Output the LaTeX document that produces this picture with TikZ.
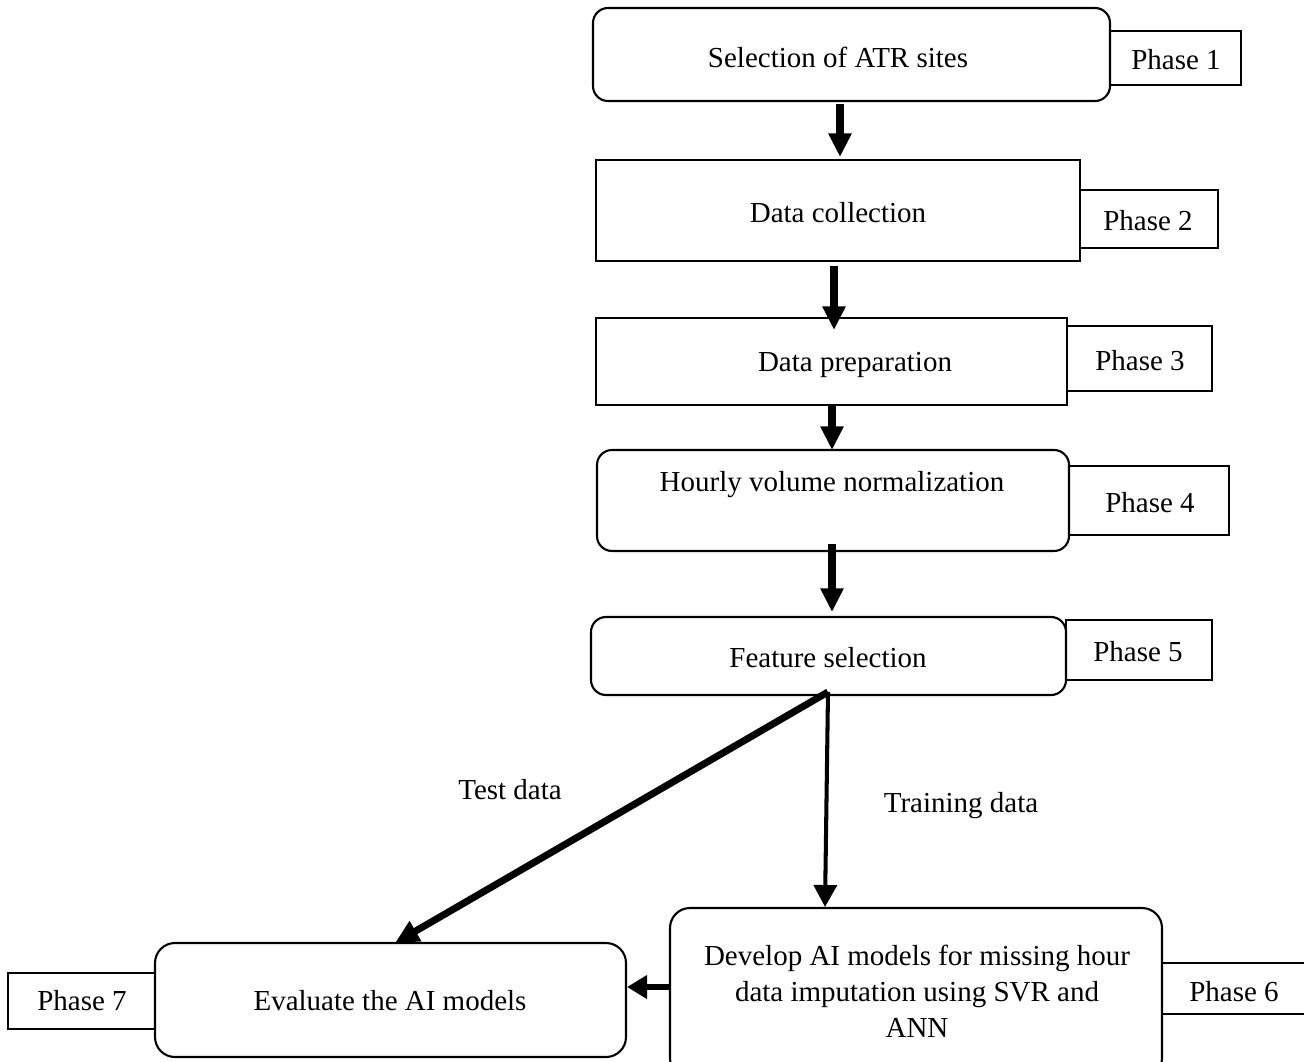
\documentclass[tikz,border=0pt]{standalone}
\usepackage{fontspec}
\setmainfont{Liberation Serif}
\usetikzlibrary{arrows.meta,fit}
\begin{document}
\begin{tikzpicture}[x=0.02cm,y=-0.02cm,
  box/.style={draw, line width=1.2pt, inner sep=0pt},
  rbox/.style={box, rounded corners=0.3cm},
  rrbox/.style={box, rounded corners=0.4cm},
  txt/.style={font=\fontsize{16.5pt}{20.5pt}\selectfont, inner sep=0pt, align=center},
  bigarrow/.style={line width=4pt, -{Triangle[width=12.5pt,length=13.5pt]}},
  midarrow/.style={line width=2.3pt, -{Triangle[width=13pt,length=12.5pt]}},
  sidearrow/.style={line width=3.5pt, -{Triangle[width=13pt,length=11.5pt]}}]
\useasboundingbox (0,0) rectangle (1304,1061);
% boxes
\node[rbox, fit={(593,8) (1110,101)}] (b1) {};
\node[box, fit={(1110,31) (1241,85)}] (p1) {};
\node[box, fit={(596,160) (1080,261)}] (b2) {};
\node[box, fit={(1080,190) (1218,248)}] (p2) {};
\node[box, fit={(596,318) (1067,405)}] (b3) {};
\node[box, fit={(1067,326) (1212,391)}] (p3) {};
\node[rbox, fit={(597,450) (1069,551)}] (b4) {};
\node[box, fit={(1069,466) (1229,535)}] (p4) {};
\node[rbox, fit={(591,617) (1066,695)}] (b5) {};
\node[box, fit={(1066,620) (1212,680)}] (p5) {};
\node[rrbox, fit={(670,908) (1162,1078)}] (b6) {};
\node[box, fit={(1162,963) (1330,1014)}] (p6) {};
\node[rrbox, fit={(155,943) (626,1057)}] (b7) {};
\node[box, fit={(8,973) (155,1029)}] (p7) {};
% texts
\node[txt] (t1) at (838,57) {Selection of ATR sites};
\node[txt] (tp1) at (1176,60) {Phase 1};
\node[txt] (t2) at (838,213) {Data collection};
\node[txt] (tp2) at (1148,221) {Phase 2};
\node[txt] (t3) at (855,365) {Data preparation};
\node[txt] (tp3) at (1140,361) {Phase 3};
\node[txt] (t4) at (832,485) {Hourly volume normalization};
\node[txt] (tp4) at (1150,503) {Phase 4};
\node[txt] (t5) at (828,658) {Feature selection};
\node[txt] (tp5) at (1138,652) {Phase 5};
\node[txt] (t6) at (917,991) {Develop AI models for missing hour\\data imputation using SVR and\\ANN};
\node[txt] (tp6) at (1234,992) {Phase 6};
\node[txt] (t7) at (390,1001) {Evaluate the AI models};
\node[txt] (tp7) at (82,1001) {Phase 7};
\node[txt] (ltest) at (510,790) {Test data};
\node[txt] (ltrain) at (961,806) {Training data};
% connector ends
\coordinate (a1s) at (840,104); \coordinate (a1e) at (840,157);
\coordinate (a2s) at (834,266); \coordinate (a2e) at (834,330);
\coordinate (a3s) at (832,406); \coordinate (a3e) at (832,450);
\coordinate (a4s) at (832,544); \coordinate (a4e) at (832,612);
\coordinate (fs) at (828,692);
\coordinate (a5e) at (395,943);
\coordinate (a6e) at (825,907);
\coordinate (a7s) at (669,987); \coordinate (a7e) at (627,987);
% connectors
\draw[bigarrow] (a1s) -- (a1e);
\draw[bigarrow] (a2s) -- (a2e);
\draw[bigarrow] (a3s) -- (a3e);
\draw[bigarrow] (a4s) -- (a4e);
\draw[bigarrow] (fs) -- (a5e);
\draw[midarrow] (fs) -- (a6e);
\draw[sidearrow] (a7s) -- (a7e);
\end{tikzpicture}
\end{document}
